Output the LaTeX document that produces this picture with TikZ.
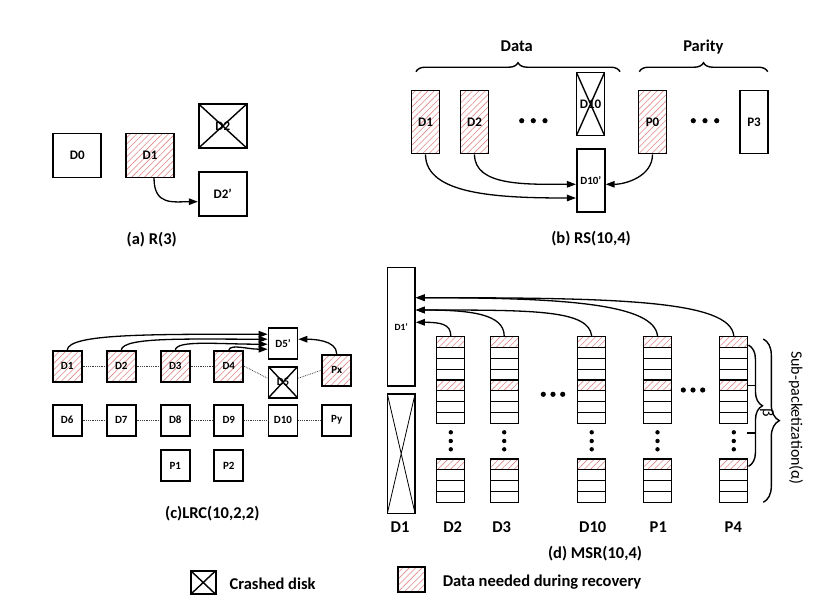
\documentclass[tikz,border=0pt]{standalone}
\usepackage{fontspec}
\setmainfont{Carlito}
\usetikzlibrary{arrows.meta, patterns.meta, decorations.pathreplacing}
\definecolor{hachure}{RGB}{222,135,135}

\tikzset{
  disk/.style={draw, line width=1.7pt, inner sep=0pt, font=\bfseries\fontsize{13}{15}\selectfont},
  needed/.style={pattern={Lines[angle=45,distance=4.5pt,line width=0.6pt]}, pattern color=hachure},
  crashed/.style={disk, path picture={
      \draw[line width=1.4pt] (path picture bounding box.north west) -- (path picture bounding box.south east)
        (path picture bounding box.south west) -- (path picture bounding box.north east);}},
  asq/.style={minimum width=48pt, minimum height=44pt},
  rsb/.style={minimum width=28pt, minimum height=63pt},
  lsq/.style={minimum width=29pt, minimum height=31pt, font=\bfseries\fontsize{11}{13}\selectfont},
  cell/.style={draw, line width=1.3pt, minimum width=28pt, minimum height=10.83pt, inner sep=0pt},
  hcell/.style={cell, needed},
  arr/.style={-{Triangle[length=9pt,width=6.5pt]}, line width=1.3pt},
  link/.style={densely dotted, line width=0.8pt, black!75},
  caption/.style={font=\bfseries\fontsize{16.5}{19}\selectfont},
  brc/.style={decorate, line width=1.4pt},
}

\begin{document}
\begin{tikzpicture}[x=1pt, y=-1pt]
  \useasboundingbox (0,0) rectangle (818,608);

  % (a) replication
  \node[disk, asq] (a0) at (77.3,155.5) {D0};
  \node[disk, asq, needed] (a1) at (150,155.5) {D1};
  \node[crashed, asq] (a2) at (222.7,126) {D2};
  \node[disk, asq] (a2p) at (222.7,193.7) {D2'};
  \draw[arr] ([xshift=4pt]a1.south) .. controls +(0,28) and +(-25,0) .. ([yshift=-8pt]a2p.west);
  \node[caption] (capa) at (151.7,239.3) {(a) R(3)};

  % (b) RS
  \node[disk, rsb, needed] (b1) at (425.5,122) {D1};
  \node[disk, rsb, needed] (b2) at (474.5,122) {D2};
  \node[crashed, rsb] (b10) at (590.5,104) {D10};
  \node[disk, rsb, needed] (bp0) at (652.5,122) {P0};
  \node[disk, rsb] (bp3) at (754,122) {P3};
  \node[disk, rsb, font=\bfseries\fontsize{11}{13}\selectfont] (b10p) at (590.8,180.5) {D10'};
  \foreach \x in {521.7,533.3,545} \fill (\x,120.7) circle (2.6);
  \foreach \x in {693.3,705,716.7} \fill (\x,120.7) circle (2.6);
  \draw[brc, decoration={brace, amplitude=9pt}] (416,71.7) -- (620,71.7);
  \draw[brc, decoration={brace, amplitude=9pt}] (639.3,71.7) -- (767.7,71.7);
  \node[caption] (data) at (516.7,46.7) {Data};
  \node[caption] (parity) at (703.3,46.7) {Parity};
  \draw[arr] (b1.south) .. controls +(0,40) and +(-80,0) .. ([yshift=-17.5pt]b10p.west);
  \draw[arr] (b2.south) .. controls +(0,32) and +(-50,0) .. ([yshift=-3.8pt]b10p.west);
  \draw[arr] (bp0.south) .. controls +(0,22) and +(20,0) .. ([yshift=-3.8pt]b10p.east);
  \node[caption] (capb) at (591,239) {(b) RS(10,4)};

  % (c) LRC
  \node[disk, lsq, needed] (c1) at (67.2,366.2) {D1};
  \node[disk, lsq, needed] (c2) at (121.3,366.2) {D2};
  \node[disk, lsq, needed] (c3) at (175.3,366.2) {D3};
  \node[disk, lsq, needed] (c4) at (228.8,366.2) {D4};
  \node[disk, lsq] (c5p) at (283,343.2) {D5'};
  \node[crashed, lsq] (c5) at (283,382.2) {D5};
  \node[disk, lsq, needed] (cx) at (336.7,370.2) {Px};
  \node[disk, lsq] (c6) at (67.2,420.2) {D6};
  \node[disk, lsq] (c7) at (121.3,420.2) {D7};
  \node[disk, lsq] (c8) at (175.3,420.2) {D8};
  \node[disk, lsq] (c9) at (228.8,420.2) {D9};
  \node[disk, lsq] (c10) at (283,420.2) {D10};
  \node[disk, lsq] (cy) at (336.7,420.2) {Py};
  \node[disk, lsq] (cp1) at (175.3,465.8) {P1};
  \node[disk, lsq] (cp2) at (228.8,465.8) {P2};
  \draw[link] (c1) -- (c2) (c2) -- (c3) (c3) -- (c4);
  \draw[link] (c4.east) -- ([yshift=4pt]c5.west) ([yshift=4pt]c5.east) -- (cx.west);
  \draw[link] (c6) -- (c7) (c7) -- (c8) (c8) -- (c9) (c9) -- (c10) (c10) -- (cy);
  \draw[arr] (c1.north) .. controls +(2,-16) and +(-120,0) .. ([yshift=9pt]c5p.west);
  \draw[arr] (c2.north) .. controls +(2,-13) and +(-80,0) .. ([yshift=4pt]c5p.west);
  \draw[arr] (c3.north) .. controls +(2,-10) and +(-50,0) .. ([yshift=-1pt]c5p.west);
  \draw[arr] (c4.north) .. controls +(2,-6) and +(-20,0) .. ([yshift=-6pt]c5p.west);
  \draw[arr] (cx.north) .. controls +(0,-14) and +(14,0) .. ([yshift=4pt]c5p.east);
  \node[caption] (capc) at (212.3,514) {(c)LRC(10,2,2)};

  % (d) MSR
  \node[disk, minimum width=27.7pt, minimum height=118.7pt, line width=1.4pt,
        font=\bfseries\fontsize{9.5}{11}\selectfont] (d1p) at (401.2,326.7) {D1'};
  \node[crashed, minimum width=27.7pt, minimum height=119.3pt, line width=1.4pt,
        path picture={\draw[line width=0.8pt] (path picture bounding box.north west) -- (path picture bounding box.south east)
          (path picture bounding box.south west) -- (path picture bounding box.north east);}] (d1) at (401.2,453.7) {};
  \foreach \n/\x in {d2/450.8, d3/504.2, d10/591.7, p1/657.5, p4/733.8} {
    \foreach \i/\s in {1/hcell,2/cell,3/cell,4/cell,5/hcell,6/cell,7/cell,8/cell}
      \node[\s] (\n-\i) at (\x,{342.1+(\i-1)*10.83}) {};
    \foreach \j/\s in {1/hcell,2/cell,3/cell,4/cell}
      \node[\s] (\n b-\j) at (\x,{464.4+(\j-1)*10.83}) {};
    \foreach \y in {432.3,441,449.3} \fill (\x,\y) circle (2.2);
  }
  \foreach \x in {543.3,553,562.7} \fill (\x,394.3) circle (2.6);
  \foreach \x in {683.3,693,702.7} \fill (\x,390) circle (2.6);
  \draw[arr] (d2-1.north) .. controls +(0,-12) and +(25,0) .. ([yshift=4.4pt]d1p.east);
  \draw[arr] (d3-1.north) .. controls +(0,-22) and +(55,0) .. ([yshift=16.7pt]d1p.east);
  \draw[arr] (d10-1.north) .. controls +(-3,-26) and +(120,0) .. ([yshift=16.7pt]d1p.east);
  \draw[arr] (p1-1.north) .. controls +(-3,-32) and +(150,0) .. ([yshift=29pt]d1p.east);
  \draw[arr] (p4-1.north) .. controls +(-3,-36) and +(200,0) .. ([yshift=29pt]d1p.east);
  % braces
  \draw[brc, decoration={brace, amplitude=14pt}] ([yshift=-3pt]p4-1.east) -- ([yshift=-2pt]p4b-1.east);
  \draw[line width=1.4pt] (p4-5.east) -- +(8,0) (747,433) -- +(8,0);
  \node[font=\fontsize{16}{18}\selectfont, rotate=-90] (beta) at (767,413) {β};
  \draw[brc, decoration={brace, amplitude=16pt}] (763.3,339) -- (763.3,502.3);
  \node[font=\fontsize{16}{18}\selectfont, rotate=-90] (subp) at (796,418) {Sub-packetization(α)};
  \foreach \n/\x in {d1/400, d2/452.7, d3/501.7, d10/592.7, p1/658.3, p4/733.3}
    \node[caption] (lab\n) at (\x,526.7) {\MakeUppercase{\n}};
  \node[caption] (capd) at (595,553.3) {(d) MSR(10,4)};

  % legend
  \node[crashed, minimum width=25pt, minimum height=23.6pt] (legx) at (203.2,582.5) {};
  \node[caption, anchor=west] (legxt) at (226,584) {Crashed disk};
  \node[disk, needed, minimum width=27pt, minimum height=25pt] (legh) at (411.8,579.3) {};
  \node[caption, anchor=west] (leght) at (439.3,581.7) {Data needed during recovery};
\end{tikzpicture}
\end{document}
